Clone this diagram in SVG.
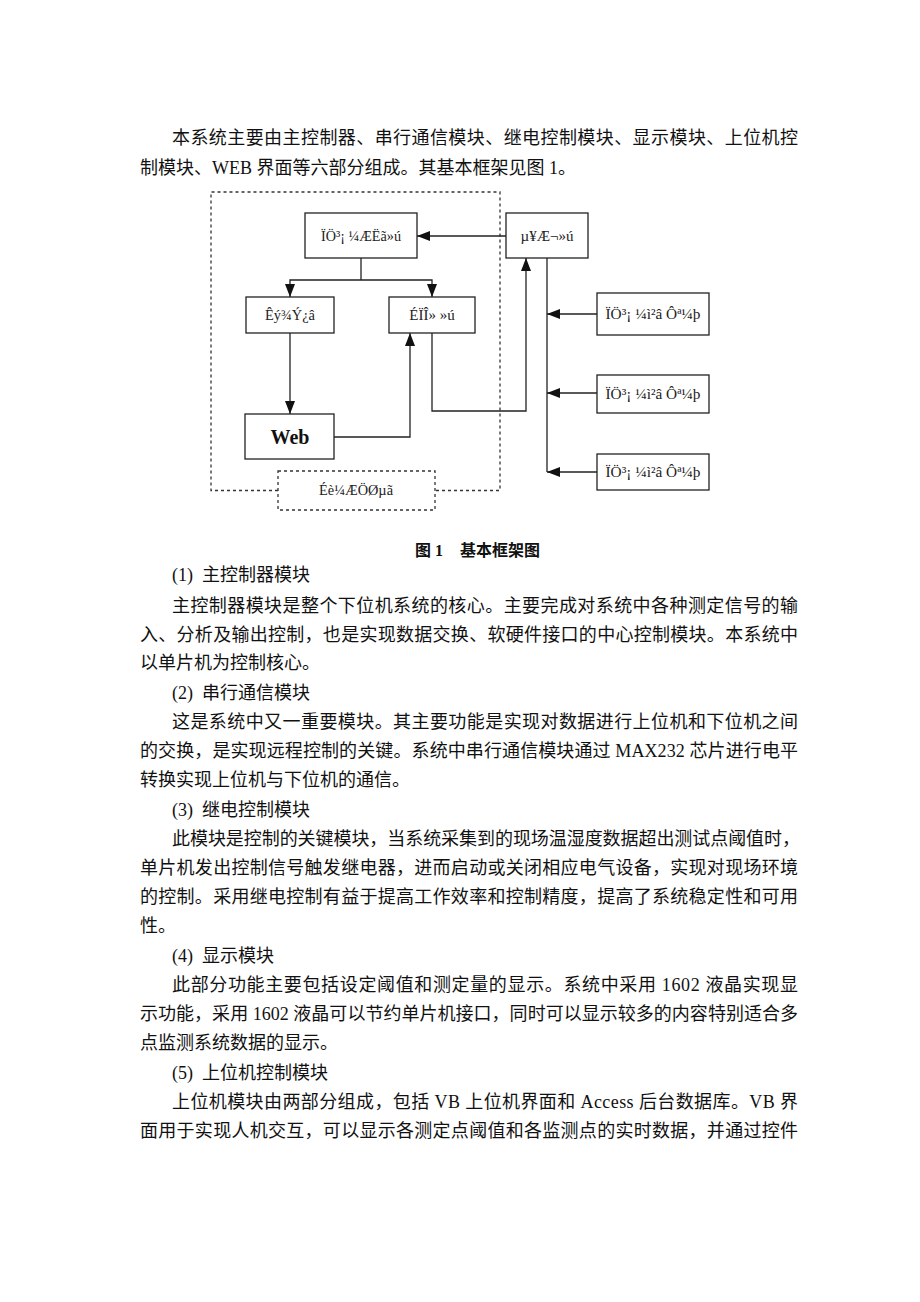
<svg xmlns="http://www.w3.org/2000/svg" width="920" height="1302" viewBox="0 0 920 1302">
<style>
  .p { font-family: "Liberation Serif", "Noto Sans CJK SC", serif; font-size: 18px; fill: #111; }
  .box { fill: #fff; stroke: #222; stroke-width: 1.3; }
  .dash { fill: none; stroke: #333; stroke-width: 1.3; stroke-dasharray: 3 3; }
  .lbl { font-family: "Liberation Serif", serif; font-size: 15px; fill: #222; text-anchor: middle; }
  .web { font-family: "Liberation Serif", serif; font-size: 20px; font-weight: bold; fill: #111; text-anchor: middle; }
  .cap { font-family: "Liberation Serif", "Noto Sans CJK SC", sans-serif; font-size: 16px; font-weight: bold; fill: #111; }
  .ln { fill: none; stroke: #222; stroke-width: 1.3; }
</style>
<defs>
  <marker id="ah" markerUnits="userSpaceOnUse" markerWidth="13" markerHeight="10" refX="13" refY="5" orient="auto">
    <path d="M0,0 L13,5 L0,10 z" fill="#111"/>
  </marker>
</defs>
<rect width="920" height="1302" fill="#fff"/>

<g id="text">
  <text class="p" x="172" y="144" textLength="626" lengthAdjust="spacing">本系统主要由主控制器、串行通信模块、继电控制模块、显示模块、上位机控</text>
  <text class="p" x="140" y="174">制模块、WEB 界面等六部分组成。其基本框架见图 1。</text>
  <text class="cap" y="556"><tspan x="415">图 1</tspan><tspan x="460">基本框架图</tspan></text>
  <text class="p" y="581"><tspan x="172">(1)</tspan><tspan x="202">主控制器模块</tspan></text>
  <text class="p" x="172" y="612" textLength="626" lengthAdjust="spacing">主控制器模块是整个下位机系统的核心。主要完成对系统中各种测定信号的输</text>
  <text class="p" x="140" y="641" textLength="658" lengthAdjust="spacing">入、分析及输出控制，也是实现数据交换、软硬件接口的中心控制模块。本系统中</text>
  <text class="p" x="140" y="669">以单片机为控制核心。</text>
  <text class="p" y="699"><tspan x="172">(2)</tspan><tspan x="202">串行通信模块</tspan></text>
  <text class="p" x="172" y="728" textLength="626" lengthAdjust="spacing">这是系统中又一重要模块。其主要功能是实现对数据进行上位机和下位机之间</text>
  <text class="p" x="140" y="757" textLength="658" lengthAdjust="spacing">的交换，是实现远程控制的关键。系统中串行通信模块通过 MAX232 芯片进行电平</text>
  <text class="p" x="140" y="786">转换实现上位机与下位机的通信。</text>
  <text class="p" y="816"><tspan x="172">(3)</tspan><tspan x="202">继电控制模块</tspan></text>
  <text class="p" x="172" y="845" textLength="628" lengthAdjust="spacing">此模块是控制的关键模块，当系统采集到的现场温湿度数据超出测试点阈值时，</text>
  <text class="p" x="140" y="874" textLength="658" lengthAdjust="spacing">单片机发出控制信号触发继电器，进而启动或关闭相应电气设备，实现对现场环境</text>
  <text class="p" x="140" y="903" textLength="658" lengthAdjust="spacing">的控制。采用继电控制有益于提高工作效率和控制精度，提高了系统稳定性和可用</text>
  <text class="p" x="140" y="932">性。</text>
  <text class="p" y="962"><tspan x="172">(4)</tspan><tspan x="202">显示模块</tspan></text>
  <text class="p" x="172" y="991" textLength="626" lengthAdjust="spacing">此部分功能主要包括设定阈值和测定量的显示。系统中采用 1602 液晶实现显</text>
  <text class="p" x="140" y="1020" textLength="658" lengthAdjust="spacing">示功能，采用 1602 液晶可以节约单片机接口，同时可以显示较多的内容特别适合多</text>
  <text class="p" x="140" y="1049">点监测系统数据的显示。</text>
  <text class="p" y="1079"><tspan x="172">(5)</tspan><tspan x="202">上位机控制模块</tspan></text>
  <text class="p" x="172" y="1108" textLength="626" lengthAdjust="spacing">上位机模块由两部分组成，包括 VB 上位机界面和 Access 后台数据库。VB 界</text>
  <text class="p" x="140" y="1137" textLength="658" lengthAdjust="spacing">面用于实现人机交互，可以显示各测定点阈值和各监测点的实时数据，并通过控件</text>
</g>

<g id="frame">
  <path class="dash" d="M278,490.5 H211 V192 H500 V490.5 H435"/>
</g>

<g id="connectors">
  <path class="ln" d="M506,236 H417" marker-end="url(#ah)"/>
  <path class="ln" d="M361,258 V280"/>
  <path class="ln" d="M361,280 H290 V297" marker-end="url(#ah)"/>
  <path class="ln" d="M361,280 H432 V297" marker-end="url(#ah)"/>
  <path class="ln" d="M290,333 V414" marker-end="url(#ah)"/>
  <path class="ln" d="M334,437 H410 V333" marker-end="url(#ah)"/>
  <path class="ln" d="M432,333 V411 H526 V258" marker-end="url(#ah)"/>
  <path class="ln" d="M547,258 V472"/>
  <path class="ln" d="M597,314 H547" marker-end="url(#ah)"/>
  <path class="ln" d="M597,393 H547" marker-end="url(#ah)"/>
  <path class="ln" d="M597,472 H547" marker-end="url(#ah)"/>
</g>

<g id="node-computer">
  <rect class="box" x="305" y="213" width="112" height="45"/>
  <text class="lbl" x="361" y="241" textLength="80" lengthAdjust="spacingAndGlyphs">ÏÖ³¡ ¼ÆËã»ú</text>
</g>
<g id="node-mcu">
  <rect class="box" x="506" y="213" width="82" height="45"/>
  <text class="lbl" x="547" y="241">µ¥Æ¬»ú</text>
</g>
<g id="node-database">
  <rect class="box" x="246" y="297" width="88" height="36"/>
  <text class="lbl" x="290" y="320" textLength="50" lengthAdjust="spacingAndGlyphs">Êý¾Ý¿â</text>
</g>
<g id="node-host">
  <rect class="box" x="389" y="297" width="86" height="36"/>
  <text class="lbl" x="432" y="320">ÉÏÎ» »ú</text>
</g>
<g id="node-web">
  <rect class="box" x="245" y="414" width="89" height="45"/>
  <text class="web" x="290" y="444">Web</text>
</g>
<g id="node-sensor1">
  <rect class="box" x="597" y="293" width="112" height="42"/>
  <text class="lbl" x="653" y="319" textLength="95" lengthAdjust="spacingAndGlyphs">ÏÖ³¡ ¼ì²â Ôª¼þ</text>
</g>
<g id="node-sensor2">
  <rect class="box" x="597" y="375" width="112" height="38"/>
  <text class="lbl" x="653" y="399" textLength="95" lengthAdjust="spacingAndGlyphs">ÏÖ³¡ ¼ì²â Ôª¼þ</text>
</g>
<g id="node-sensor3">
  <rect class="box" x="597" y="454" width="112" height="36"/>
  <text class="lbl" x="653" y="477" textLength="95" lengthAdjust="spacingAndGlyphs">ÏÖ³¡ ¼ì²â Ôª¼þ</text>
</g>
<g id="node-design">
  <rect class="dash" x="278" y="471" width="157" height="39"/>
  <text class="lbl" x="356" y="495" textLength="74" lengthAdjust="spacingAndGlyphs">Éè¼ÆÖØµã</text>
</g>
</svg>
